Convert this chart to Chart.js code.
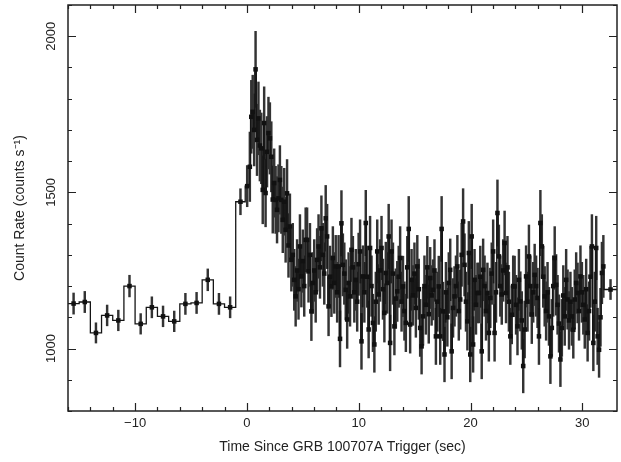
<!DOCTYPE html>
<html>
<head>
<meta charset="utf-8">
<script src="https://cdn.jsdelivr.net/npm/chart.js@4.4.1/dist/chart.umd.min.js"></script>
<style>
  html, body { margin: 0; padding: 0; background: #fff; }
  #wrap { width: 621px; height: 462px; }
</style>
</head>
<body>
<div id="wrap"><canvas id="lc"></canvas></div>
<script>
// pre-trigger: 1 s bins starting at -16 s
const preStart = -16;
const preWidth = 1;
const preRates = [1144, 1149, 1050, 1106, 1090, 1200, 1079, 1132, 1103, 1087, 1143, 1146, 1220, 1143, 1132];

// two bins around the trigger (edges + rates)
const trigEdges = [-1, -0.15, 0.2];
const trigRates = [1470, 1520];

// 0.128 s bins from 0.2 s (one row ~ 1 s)
const denseStart = 0.2;
const denseWidth = 0.128;
const denseRates = [
  1582, 1742, 1758, 1700, 1894, 1668, 1737, 1650,
  1641, 1508, 1722, 1498, 1630, 1690, 1673, 1614,
  1477, 1530, 1476, 1444, 1481, 1540, 1476, 1412,
  1470, 1380, 1497, 1330, 1391, 1284, 1300, 1220,
  1167, 1250, 1190, 1327, 1231, 1280, 1200, 1348,
  1348, 1247, 1300, 1119, 1210, 1250, 1180, 1284,
  1327, 1260, 1385, 1300, 1240, 1417, 1359, 1135,
  1230, 1199, 1290, 1210, 1263, 1180, 1263, 1031,
  1401, 1268, 1240, 1188, 1093, 1210, 1167, 1316,
  1260, 1180, 1220, 1150, 1270, 1311, 1023, 1231,
  1180, 1402, 1230, 1061, 1322, 1200, 1082, 1013,
  1150, 1311, 1173, 1250, 1322, 1190, 1114, 1242,
  1210, 1359, 1018, 1311, 1240, 1071, 1160, 1183,
  1230, 1290, 1150, 1199, 1120, 1082, 1260, 1383,
  1077, 1220, 1170, 1240, 1130, 1263, 1190, 1066,
  1007, 1103, 1200, 1140, 1260, 1110, 1226, 1170,
  1188, 1250, 1039, 1150, 1199, 1039, 1383, 1119,
  981, 1180, 1100, 1210, 1252, 991, 1130, 1167,
  1200, 1263, 1120, 1157, 1300, 1407, 1268, 1150,
  1087, 1306, 981, 1359, 1013, 1220, 1140, 1178,
  1178, 1230, 991, 1252, 1200, 1120, 1178, 1050,
  1162, 1240, 1311, 1050, 1180, 1434, 1295, 1200,
  1173, 1250, 1338, 1178, 1260, 1150, 1039, 1108,
  1200, 1199, 1140, 1071, 1220, 1151, 1090, 944,
  1061, 1231, 1150, 1295, 1200, 1109, 1180, 1236,
  1200, 1162, 1039, 1402, 1327, 1230, 1167, 1120,
  1180, 1103, 975, 1066, 1200, 1290, 1204, 1140,
  1080, 965, 1066, 1170, 1103, 1220, 1157, 1090,
  1150, 1103, 1060, 1157, 1210, 1178, 1120, 1231,
  1180, 1140, 1093, 1190, 1050, 1120, 1230, 1327,
  1018, 1150, 1322, 1039, 996, 1100, 1242, 1263
];

// last wide bin up to the end of the plot
const tailEnd = 33.1;
const tailRates = [1189];

const xMin = -16, xMax = 33.1;
const yMin = 800, yMax = 2100;

// collect bins {lo, hi, rate}
const bins = [];
preRates.forEach((r, i) => bins.push({lo: preStart + i * preWidth, hi: preStart + (i + 1) * preWidth, rate: r}));
trigRates.forEach((r, i) => bins.push({lo: trigEdges[i], hi: trigEdges[i + 1], rate: r}));
denseRates.forEach((r, i) => bins.push({lo: denseStart + i * denseWidth, hi: denseStart + (i + 1) * denseWidth, rate: r}));
const denseEnd = denseStart + denseRates.length * denseWidth;
bins.push({lo: denseEnd, hi: tailEnd, rate: tailRates[0]});

// histogram outline, bin centres, poisson error bars
const stepPts = [];
const centres = [];
const errBars = [];
bins.forEach(b => {
  stepPts.push({x: b.lo, y: b.rate}, {x: b.hi, y: b.rate});
  const c = (b.lo + b.hi) / 2;
  const err = Math.sqrt(b.rate / (b.hi - b.lo));
  centres.push({x: c, y: b.rate});
  errBars.push({x: c, y: [b.rate - err, b.rate + err]});
});

// frame plus inward ticks on all four sides
const frameTicks = {
  id: 'frameTicks',
  afterDatasetsDraw(chart) {
    const {ctx, chartArea: a, scales: {x, y}} = chart;
    ctx.save();
    ctx.strokeStyle = '#222';
    ctx.lineWidth = 1.5;
    ctx.strokeRect(a.left, a.top, a.right - a.left, a.bottom - a.top);
    ctx.lineWidth = 1.2;
    ctx.beginPath();
    x.ticks.forEach(t => {
      if (Math.abs(t.value % 2) > 1e-6) return;
      const px = Math.round(x.getPixelForValue(t.value)) + 0.5;
      const len = t.value % 10 === 0 ? 8 : 4;
      ctx.moveTo(px, a.bottom); ctx.lineTo(px, a.bottom - len);
      ctx.moveTo(px, a.top); ctx.lineTo(px, a.top + len);
    });
    y.ticks.forEach(t => {
      if (Math.abs(t.value % 100) > 1e-6) return;
      const py = Math.round(y.getPixelForValue(t.value)) + 0.5;
      const len = t.value % 500 === 0 ? 8 : 4;
      ctx.moveTo(a.left, py); ctx.lineTo(a.left + len, py);
      ctx.moveTo(a.right, py); ctx.lineTo(a.right - len, py);
    });
    ctx.stroke();
    ctx.restore();
  }
};

const font = 'Liberation Sans, Arial, Helvetica, sans-serif';

new Chart(document.getElementById('lc'), {
  type: 'line',
  data: {
    datasets: [
      {
        type: 'bar',
        data: errBars,
        backgroundColor: '#333',
        barThickness: 1.8,
        grouped: false,
        order: 3
      },
      {
        type: 'line',
        data: stepPts,
        borderColor: '#151515',
        borderWidth: 1.3,
        pointRadius: 0,
        fill: false,
        tension: 0,
        order: 2
      },
      {
        type: 'scatter',
        data: centres,
        pointStyle: 'rect',
        pointRadius: 3.2,
        backgroundColor: '#111',
        borderColor: '#111',
        borderWidth: 0,
        order: 1
      }
    ]
  },
  options: {
    responsive: true,
    maintainAspectRatio: false,
    animation: false,
    layout: { padding: { top: 5, right: 4, left: 6, bottom: 0 } },
    plugins: { legend: { display: false }, tooltip: { enabled: false } },
    scales: {
      x: {
        type: 'linear',
        min: xMin,
        max: xMax,
        offset: false,
        grid: { display: false, drawTicks: false },
        border: { display: false },
        afterFit: s => { s.paddingLeft = 0; s.paddingRight = 0; s.height = 51; },
        ticks: {
          stepSize: 2,
          autoSkip: false,
          maxRotation: 0,
          padding: 5,
          color: '#222',
          font: { family: font, size: 13 },
          callback: v => v % 10 === 0 ? (v < 0 ? '\u2212' + Math.abs(v) : String(v)) : ''
        },
        title: {
          display: true,
          text: 'Time Since GRB 100707A Trigger (sec)',
          color: '#222',
          font: { family: font, size: 14 },
          padding: { top: 0, bottom: 6 }
        }
      },
      y: {
        type: 'linear',
        min: yMin,
        max: yMax,
        grid: { display: false, drawTicks: false },
        border: { display: false },
        afterFit: s => { s.paddingTop = 0; s.paddingBottom = 0; s.width = 62; },
        ticks: {
          stepSize: 100,
          autoSkip: false,
          minRotation: 90,
          maxRotation: 90,
          crossAlign: 'center',
          padding: 2,
          color: '#222',
          font: { family: font, size: 13 },
          callback: v => v % 500 === 0 ? String(v) : ''
        },
        title: {
          display: true,
          text: 'Count Rate (counts s\u207B\u00B9)',
          color: '#222',
          font: { family: font, size: 14 },
          padding: { top: 6, bottom: 0 }
        }
      }
    }
  },
  plugins: [frameTicks]
});
</script>
</body>
</html>
